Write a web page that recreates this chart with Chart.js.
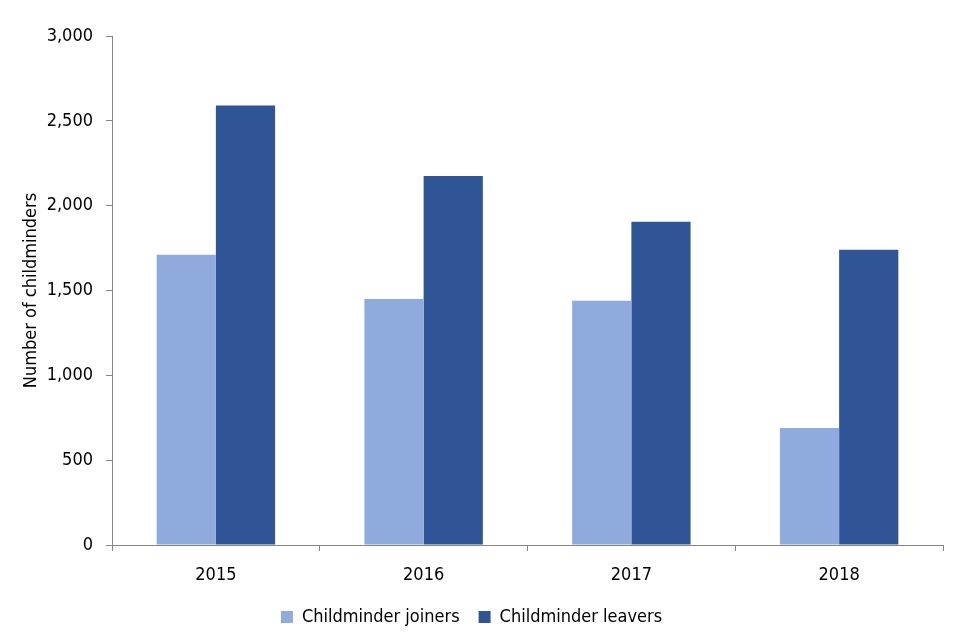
<!DOCTYPE html>
<html>
  <head>
    <title>Childminder joiners and leavers</title>
    <script src="https://cdn.jsdelivr.net/npm/chart.js@4.4.1/dist/chart.umd.min.js"></script>
    <style>
      body { margin: 0; background: #fff; }
    </style>
  </head>
  <body>
    <canvas id="myChart" width="960" height="640"></canvas>
    <script>
      const years = ["2015", "2016", "2017", "2018"];
      const joiners = [1710, 1450, 1440, 690];
      const leavers = [2590, 2175, 1905, 1740];

      const font = { family: "DejaVu Sans Condensed", size: 18 };
      const axisColor = "#868686";

      const ctx = document.getElementById("myChart").getContext("2d");
      new Chart(ctx, {
        type: "bar",
        data: {
          labels: years,
          datasets: [
            {
              label: "Childminder joiners",
              data: joiners,
              backgroundColor: "#8faadc",
            },
            {
              label: "Childminder leavers",
              data: leavers,
              backgroundColor: "#2f5597",
            },
          ],
        },
        options: {
          responsive: false,
          animation: false,
          layout: { padding: { top: 36, right: 17, left: 0, bottom: 4 } },
          datasets: { bar: { categoryPercentage: 0.57, barPercentage: 1 } },
          plugins: {
            tooltip: { enabled: false },
            legend: {
              position: "bottom",
              labels: { font: font, color: "#000", boxWidth: 12, boxHeight: 12, padding: 19 },
            },
          },
          scales: {
            x: {
              offset: true,
              grid: { offset: true, drawOnChartArea: false, tickLength: 6, color: axisColor },
              border: { color: axisColor },
              ticks: { font: font, color: "#000", padding: 14 },
              afterFit: (scale) => { scale.height = 44; },
            },
            y: {
              min: 0,
              max: 3000,
              ticks: {
                stepSize: 500,
                font: font,
                color: "#000",
                padding: 13,
                callback: (v) => v.toLocaleString("en-GB"),
              },
              grid: { drawOnChartArea: false, tickLength: 6, color: axisColor },
              border: { color: axisColor },
              title: { display: true, text: "Number of childminders", font: font, color: "#000", padding: { top: 21, bottom: 0 } },
              afterFit: (scale) => { scale.width = 112; },
            },
          },
        },
      });
    </script>
  </body>
</html>
